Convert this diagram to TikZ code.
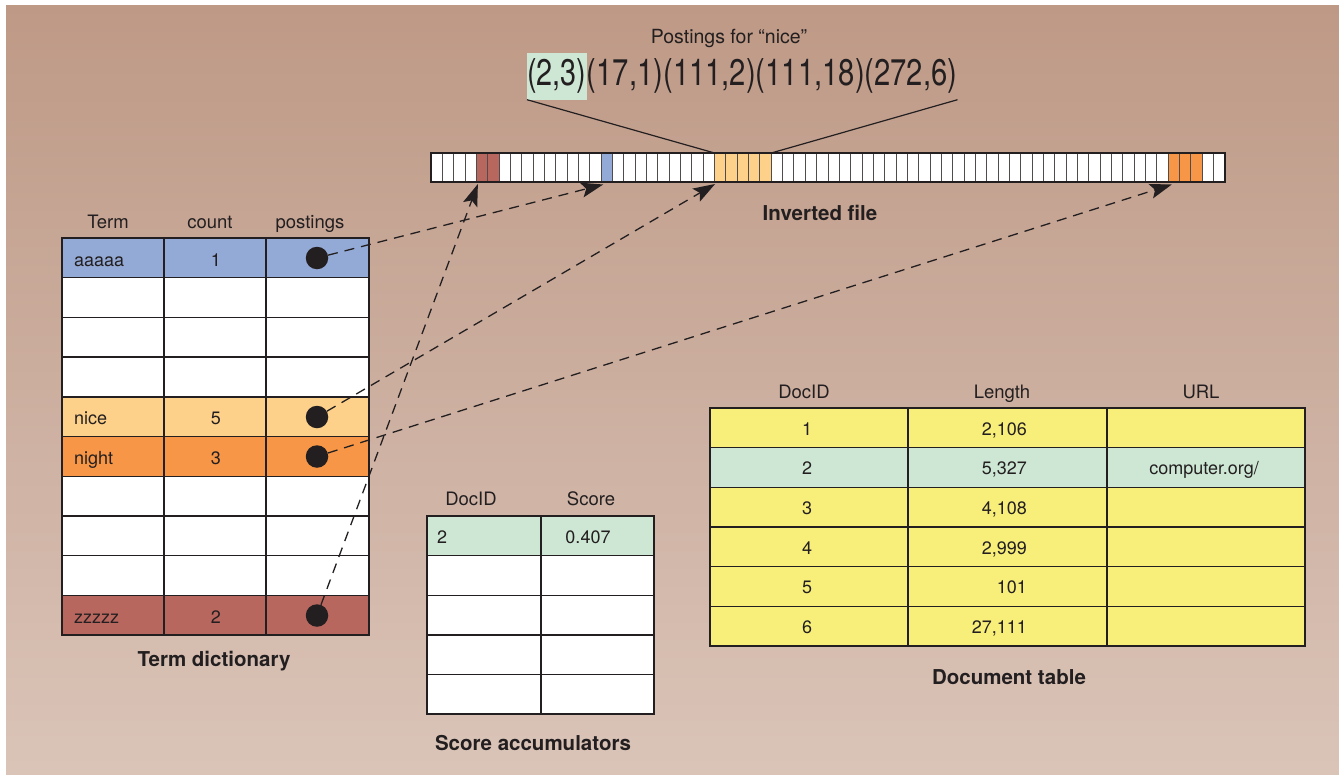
\documentclass[tikz,border=0pt]{standalone}
\usepackage{fontspec}
\usepackage{graphicx}
\setmainfont{TeX Gyre Heros}
\usetikzlibrary{arrows.meta}

\definecolor{bgtop}{RGB}{190,153,134}
\definecolor{bgbot}{RGB}{218,196,184}
\definecolor{termblue}{RGB}{148,170,214}
\definecolor{nicecol}{RGB}{254,209,138}
\definecolor{nightcol}{RGB}{246,150,70}
\definecolor{zzcol}{RGB}{184,103,95}
\definecolor{hitgreen}{RGB}{205,231,212}
\definecolor{docyellow}{RGB}{248,238,122}
\definecolor{ink}{RGB}{35,31,32}
\definecolor{cellline}{RGB}{80,76,76}

\tikzset{
  lbl/.style={font=\fontsize{18}{20}\selectfont, text=ink, inner sep=0pt},
  head/.style={font=\fontsize{18.5}{20}\selectfont, text=ink, inner sep=0pt, anchor=base},
  ttl/.style={font=\bfseries\fontsize{20.5}{22}\selectfont, text=ink, inner sep=0pt, anchor=base},
  gridline/.style={draw=ink, line width=1.4pt},
  frameline/.style={draw=ink, line width=2pt},
  slot/.style={draw=cellline, line width=1pt},
  dot/.style={circle, fill=ink, minimum size=22.5pt, inner sep=0pt},
  ptr/.style={draw=ink, line width=1.3pt, dash pattern=on 10pt off 7pt,
    -{Stealth[length=22pt,width=15pt,inset=4.5pt]}},
}

\begin{document}
\begin{tikzpicture}[x=1pt,y=-1pt]
\useasboundingbox (0,0) rectangle (1339,774);
\shade[top color=bgtop, bottom color=bgbot] (6,5) rectangle (1339,774);

% ---------- inverted file: a strip of 70 slots ----------
\foreach \i in {0,...,70} {
  \coordinate (t\i) at ({431+\i*11.343},153);
  \coordinate (b\i) at ({431+\i*11.343},182);
}
\fill[white] (t0) rectangle (b70);
\fill[zzcol] (t4) rectangle (b6);
\fill[termblue] (t15) rectangle (b16);
\fill[nicecol] (t25) rectangle (b30);
\fill[nightcol] (t65) rectangle (b68);
\foreach \i in {1,...,69} { \draw[slot] (t\i) -- (b\i); }
\draw[draw=ink, line width=1.5pt] (t0) rectangle (b70);
\node[ttl] (invtitle) at (820,220) {Inverted file};

% ---------- postings list for "nice" ----------
\node[font=\fontsize{19.5}{21}\selectfont, text=ink, inner sep=0pt, anchor=base]
  (plabel) at (729,43) {Postings for “nice”};
\node[font=\fontsize{37}{40}\selectfont, text=ink, fill=hitgreen, inner xsep=0pt,
  inner ysep=0pt, minimum height=47pt, anchor=west]
  (p1) at (527,76) {\scalebox{0.78}[1]{(2,3)}};
\node[font=\fontsize{37}{40}\selectfont, text=ink, inner sep=0pt, minimum height=47pt,
  anchor=west] (p2) at (p1.east)
  {\scalebox{0.79}[1]{(17,1)(111,2)(111,18)(272,6)}};
\draw[ink, line width=1.2pt] (p1.south west) -- (t25);
\draw[ink, line width=1.2pt] (p2.south east) -- (t30);

% ---------- term dictionary ----------
\foreach \r/\c in {0/termblue,1/white,2/white,3/white,4/nicecol,5/nightcol,
                   6/white,7/white,8/white,9/zzcol} {
  \fill[\c] (62,{238+\r*39.7}) rectangle (369,{238+(\r+1)*39.7});
}
\foreach \r in {1,...,9} { \draw[gridline] (62,{238+\r*39.7}) -- (369,{238+\r*39.7}); }
\draw[gridline] (164,238) -- (164,635);
\draw[gridline] (266,238) -- (266,635);
\draw[frameline] (62,238) rectangle (369,635);

\node[head] (hterm) at (108,228) {Term};
\node[head] (hcount) at (210,228) {count};
\node[head] (hpost) at (310,228) {postings};

\node[lbl, anchor=base west] (wa) at (74,266) {aaaaa};
\node[lbl, anchor=base] (ca) at (216,266) {1};
\node[lbl, anchor=base west] (wn) at (74,424.5) {nice};
\node[lbl, anchor=base] (cn) at (216,424.5) {5};
\node[lbl, anchor=base west] (wg) at (74,464) {night};
\node[lbl, anchor=base] (cg) at (216,464) {3};
\node[lbl, anchor=base west] (wz) at (74,623) {zzzzz};
\node[lbl, anchor=base] (cz) at (216,623) {2};

\node[dot] (da) at (317,258) {};
\node[dot] (dn) at (317,417) {};
\node[dot] (dg) at (317,456.5) {};
\node[dot] (dz) at (317,615.5) {};

\node[ttl] (termtitle) at (214,666) {Term dictionary};

% ---------- pointers from the dictionary into the inverted file ----------
\draw[ptr] (da) -- ([shift={(2,2.5)}]b15);
\draw[ptr] (dn) -- ([shift={(0.5,2)}]b25);
\draw[ptr] (dg) -- ([shift={(3.5,2.5)}]b65);
\draw[ptr] (dz) -- ([shift={(1.5,2)}]b4);

% ---------- score accumulators ----------
\fill[hitgreen] (427,516) rectangle (654,555.6);
\fill[white] (427,555.6) rectangle (654,714);
\foreach \r in {1,...,4} { \draw[gridline] (427,{516+\r*39.6}) -- (654,{516+\r*39.6}); }
\draw[gridline] (541,516) -- (541,714);
\draw[frameline] (427,516) rectangle (654,714);
\node[head] (hsdoc) at (471,505) {DocID};
\node[head] (hsscore) at (591,505) {Score};
\node[lbl, anchor=base west] (sd) at (437,543.5) {2};
\node[lbl, anchor=base] (ss) at (588,543.5) {0.407};
\node[ttl] (scoretitle) at (533,750) {Score accumulators};

% ---------- document table ----------
\foreach \r/\c in {0/docyellow,1/hitgreen,2/docyellow,3/docyellow,4/docyellow,5/docyellow} {
  \fill[\c] (710,{408+\r*39.67}) rectangle (1305,{408+(\r+1)*39.67});
}
\foreach \r in {1,...,5} { \draw[gridline] (710,{408+\r*39.67}) -- (1305,{408+\r*39.67}); }
\draw[gridline] (908,408) -- (908,646);
\draw[gridline] (1107,408) -- (1107,646);
\draw[frameline] (710,408) rectangle (1305,646);
\node[head] (hddoc) at (804,398) {DocID};
\node[head] (hdlen) at (1002,398) {Length};
\node[head] (hdurl) at (1201,398) {URL};
\foreach \r/\d/\l in {0/1/{2,106},1/2/{5,327},2/3/{4,108},3/4/{2,999},4/5/{101},5/6/{27,111}} {
  \node[lbl, anchor=base] (dd\r) at (807,{408+\r*39.67+27.3}) {\d};
  \node[lbl, anchor=base east] (dl\r) at (1027,{408+\r*39.67+27.3}) {\l};
}
\node[lbl, anchor=base] (du1) at (1204,{408+39.67+27.3}) {computer.org/};
\node[ttl] (doctitle) at (1009,684) {Document table};
\end{tikzpicture}
\end{document}
